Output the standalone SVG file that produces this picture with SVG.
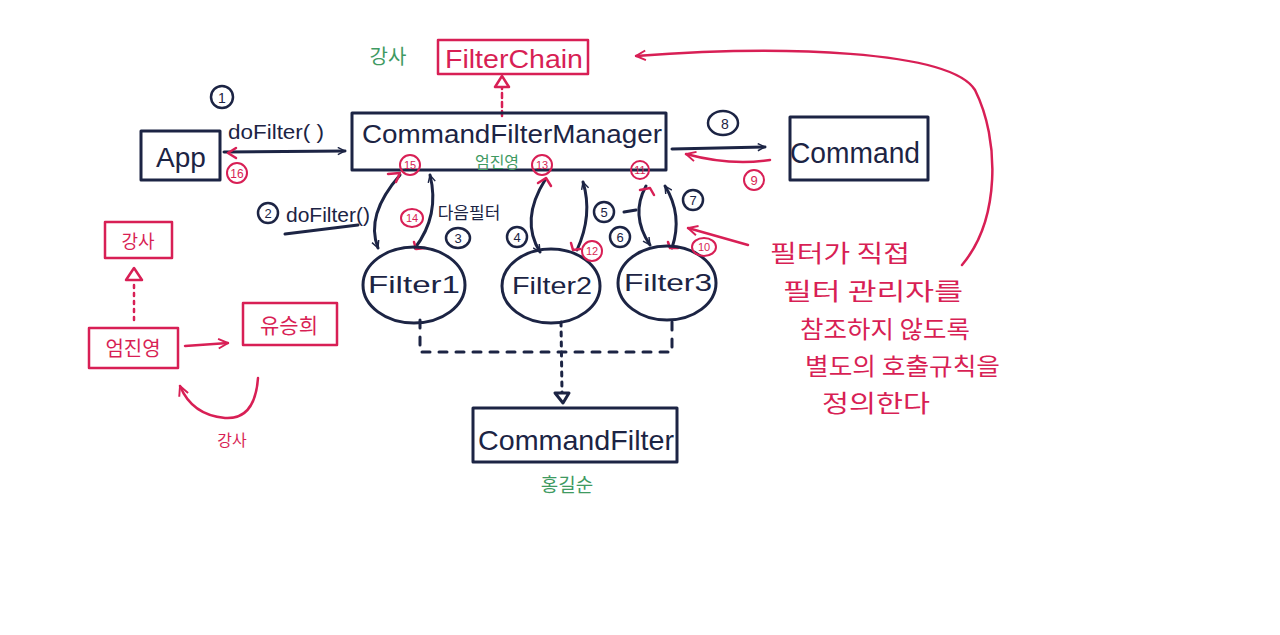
<svg xmlns="http://www.w3.org/2000/svg" width="1280" height="635" viewBox="0 0 1280 635">
<defs>
<style>
.n{fill:none;stroke:#1c2444;stroke-width:3;stroke-linecap:round;stroke-linejoin:round}
.r{fill:none;stroke:#d81f55;stroke-width:2.5;stroke-linecap:round;stroke-linejoin:round}
.tn{fill:#1c2444;font-family:"Liberation Sans","Noto Sans CJK KR",sans-serif}
.tr{fill:#d81f55;font-family:"Liberation Sans","Noto Sans CJK KR",sans-serif}
.tg{fill:#3f9a62;font-family:"Noto Sans CJK KR",sans-serif}
.k{font-family:"Noto Sans CJK KR",sans-serif}
.cn{fill:none;stroke:#1c2444;stroke-width:2.5}
.cr{fill:none;stroke:#d81f55;stroke-width:2}
</style>
<marker id="an" viewBox="0 0 10 10" refX="9" refY="5" markerWidth="9" markerHeight="9" orient="auto-start-reverse" markerUnits="userSpaceOnUse"><path d="M1,1 L9,5 L1,9" fill="none" stroke="#1c2444" stroke-width="1.6"/></marker>
<marker id="ar" viewBox="0 0 10 10" refX="9" refY="5" markerWidth="12" markerHeight="12" orient="auto-start-reverse" markerUnits="userSpaceOnUse"><path d="M1,1 L9,5 L1,9" fill="none" stroke="#d81f55" stroke-width="1.6"/></marker>
</defs>
<rect width="1280" height="635" fill="#fff"/>

<g id="connectors">
<path class="r" d="M502,116 L502,88" stroke-dasharray="5,4"/>
<path class="r" d="M502,76 L495,87 L509,87 Z" fill="none"/>
<path class="n" d="M224,152 L345,151" marker-end="url(#an)"/>
<path class="r" d="M236,148 L228,153 L236,158"/>
<path class="n" d="M672,149 L765,147" marker-end="url(#an)"/>
<path class="r" d="M770,160 Q730,166 686,154" marker-end="url(#ar)"/>
<path class="n" d="M400,175 Q365,215 378,248" marker-end="url(#an)"/>
<path class="n" d="M415,248 Q440,215 430,175" marker-end="url(#an)"/>
<path class="r" d="M388,174 L400,173 L396,182"/>
<path class="r" d="M414,242 L416,249 L425,248"/>
<path class="n" d="M285,234 L358,225"/>
<path class="n" d="M545,180 Q520,220 540,252" marker-end="url(#an)"/>
<path class="n" d="M577,250 Q593,215 583,182" marker-end="url(#an)"/>
<path class="r" d="M538,183 L546,178 L551,186"/>
<path class="r" d="M571,243 L573,250 L580,249"/>
<path class="n" d="M646,186 Q630,215 650,245" marker-end="url(#an)"/>
<path class="n" d="M672,248 Q683,215 665,186" marker-end="url(#an)"/>
<path class="r" d="M640,190 L650,188 L654,195"/>
<path class="r" d="M668,242 L670,248 L678,248"/>
<path class="n" d="M624,212 L636,210"/>
<path class="r" d="M748,245 L688,228" marker-end="url(#ar)"/>
<path class="r" d="M962,265 C1000,220 1000,140 975,90 C950,50 780,45 636,56" marker-end="url(#ar)"/>
<path class="n" d="M420,320 L420,352 L672,352 L672,320" stroke-dasharray="8,9" stroke-width="2.5"/>
<path class="n" d="M561,322 L562,392" stroke-dasharray="4,6" stroke-width="2.5"/>
<path class="n" d="M555,393 L569,393 L563,403 Z" stroke-width="2.5"/>
<path class="r" d="M134,285 L134,322" stroke-dasharray="3,5"/>
<path class="r" d="M134,268 L126,280 L142,280 Z"/>
<path class="r" d="M185,346 L228,343" marker-end="url(#ar)"/>
<path class="r" d="M258,378 Q255,420 225,418 Q192,415 180,386" marker-end="url(#ar)"/>
</g>

<g id="filterchain">
<rect class="r" x="438" y="40" width="150" height="34"/>
<text class="tr" x="445" y="68" font-size="26" textLength="138" lengthAdjust="spacingAndGlyphs">FilterChain</text>
<text class="tg" x="388" y="64" font-size="20" text-anchor="middle">강사</text>
</g>

<g id="manager">
<rect class="n" x="352" y="113" width="314" height="57"/>
<text class="tn" x="362" y="143" font-size="26" textLength="300" lengthAdjust="spacingAndGlyphs">CommandFilterManager</text>
<text class="tg" x="497" y="168" font-size="16" text-anchor="middle">엄진영</text>
</g>

<g id="app">
<rect class="n" x="141" y="131" width="79" height="49"/>
<text class="tn" x="181" y="167" font-size="28" text-anchor="middle">App</text>
<circle class="cn" cx="222" cy="97" r="11"/>
<text class="tn" x="222" y="103" font-size="14" text-anchor="middle">1</text>
<text class="tn" x="228" y="139" font-size="20" textLength="96" lengthAdjust="spacingAndGlyphs">doFilter( )</text>
<circle class="cr" cx="237" cy="173" r="10"/>
<text class="tr" x="237" y="178" font-size="12" text-anchor="middle">16</text>
</g>

<g id="command">
<rect class="n" x="790" y="117" width="138" height="63"/>
<text class="tn" x="790" y="163" font-size="30" textLength="130" lengthAdjust="spacingAndGlyphs">Command</text>
<ellipse class="cn" cx="723" cy="123" rx="15" ry="12"/>
<text class="tn" x="725" y="129" font-size="14" text-anchor="middle">8</text>
<circle class="cr" cx="754" cy="180" r="10"/>
<text class="tr" x="754" y="185" font-size="13" text-anchor="middle">9</text>
</g>

<g id="filter1">
<ellipse class="n" cx="414" cy="285" rx="51" ry="38"/>
<text class="tn" x="368" y="293" font-size="24" textLength="92" lengthAdjust="spacingAndGlyphs">Filter1</text>
<circle class="cn" cx="268" cy="213" r="10"/>
<text class="tn" x="268" y="218" font-size="13" text-anchor="middle">2</text>
<text class="tn" x="286" y="222" font-size="20" textLength="84" lengthAdjust="spacingAndGlyphs">doFilter()</text>
<ellipse class="cr" cx="412" cy="218" rx="11" ry="9"/>
<text class="tr" x="412" y="222" font-size="11" text-anchor="middle">14</text>
<text class="tn k" x="469" y="219" font-size="17" text-anchor="middle">다음필터</text>
<ellipse class="cn" cx="458" cy="238" rx="12" ry="10"/>
<text class="tn" x="458" y="243" font-size="13" text-anchor="middle">3</text>
<circle class="cr" cx="410" cy="165" r="10"/>
<text class="tr" x="410" y="169" font-size="11" text-anchor="middle">15</text>
</g>

<g id="filter2">
<ellipse class="n" cx="551" cy="286" rx="49" ry="37"/>
<text class="tn" x="512" y="294" font-size="24" textLength="80" lengthAdjust="spacingAndGlyphs">Filter2</text>
<circle class="cn" cx="517" cy="237" r="10"/>
<text class="tn" x="517" y="242" font-size="13" text-anchor="middle">4</text>
<circle class="cn" cx="604" cy="212" r="10"/>
<text class="tn" x="604" y="217" font-size="13" text-anchor="middle">5</text>
<circle class="cr" cx="592" cy="251" r="10"/>
<text class="tr" x="592" y="255" font-size="11" text-anchor="middle">12</text>
<circle class="cr" cx="542" cy="165" r="10"/>
<text class="tr" x="542" y="169" font-size="11" text-anchor="middle">13</text>
</g>

<g id="filter3">
<ellipse class="n" cx="667" cy="283" rx="49" ry="37"/>
<text class="tn" x="624" y="291" font-size="24" textLength="88" lengthAdjust="spacingAndGlyphs">Filter3</text>
<circle class="cn" cx="620" cy="237" r="10"/>
<text class="tn" x="620" y="242" font-size="13" text-anchor="middle">6</text>
<circle class="cn" cx="693" cy="200" r="10"/>
<text class="tn" x="693" y="205" font-size="13" text-anchor="middle">7</text>
<ellipse class="cr" cx="704" cy="247" rx="12" ry="9"/>
<text class="tr" x="704" y="251" font-size="11" text-anchor="middle">10</text>
<circle class="cr" cx="640" cy="170" r="9"/>
<text class="tr" x="640" y="174" font-size="11" text-anchor="middle">11</text>
</g>

<g id="commandfilter">
<rect class="n" x="473" y="408" width="204" height="54"/>
<text class="tn" x="478" y="450" font-size="28" textLength="196" lengthAdjust="spacingAndGlyphs">CommandFilter</text>
<text class="tg" x="567" y="492" font-size="19" text-anchor="middle">홍길순</text>
</g>

<g id="note">
<text class="tr k" font-size="24">
<tspan x="770" y="262" textLength="140" lengthAdjust="spacingAndGlyphs">필터가 직접</tspan>
<tspan x="783" y="300" textLength="180" lengthAdjust="spacingAndGlyphs">필터 관리자를</tspan>
<tspan x="800" y="338" textLength="170" lengthAdjust="spacingAndGlyphs">참조하지 않도록</tspan>
<tspan x="805" y="375" textLength="195" lengthAdjust="spacingAndGlyphs">별도의 호출규칙을</tspan>
<tspan x="822" y="412" textLength="108" lengthAdjust="spacingAndGlyphs">정의한다</tspan>
</text>
</g>

<g id="legend-teacher">
<rect class="r" x="105" y="222" width="67" height="36"/>
<text class="tr k" x="138" y="248" font-size="18" text-anchor="middle">강사</text>
</g>
<g id="legend-eom">
<rect class="r" x="89" y="328" width="89" height="40"/>
<text class="tr k" x="133" y="356" font-size="20" text-anchor="middle">엄진영</text>
</g>
<g id="legend-yu">
<rect class="r" x="243" y="303" width="94" height="42"/>
<text class="tr k" x="289" y="333" font-size="21" text-anchor="middle">유승희</text>
</g>
<g id="legend-label">
<text class="tr k" x="232" y="446" font-size="16" text-anchor="middle">강사</text>
</g>
</svg>
